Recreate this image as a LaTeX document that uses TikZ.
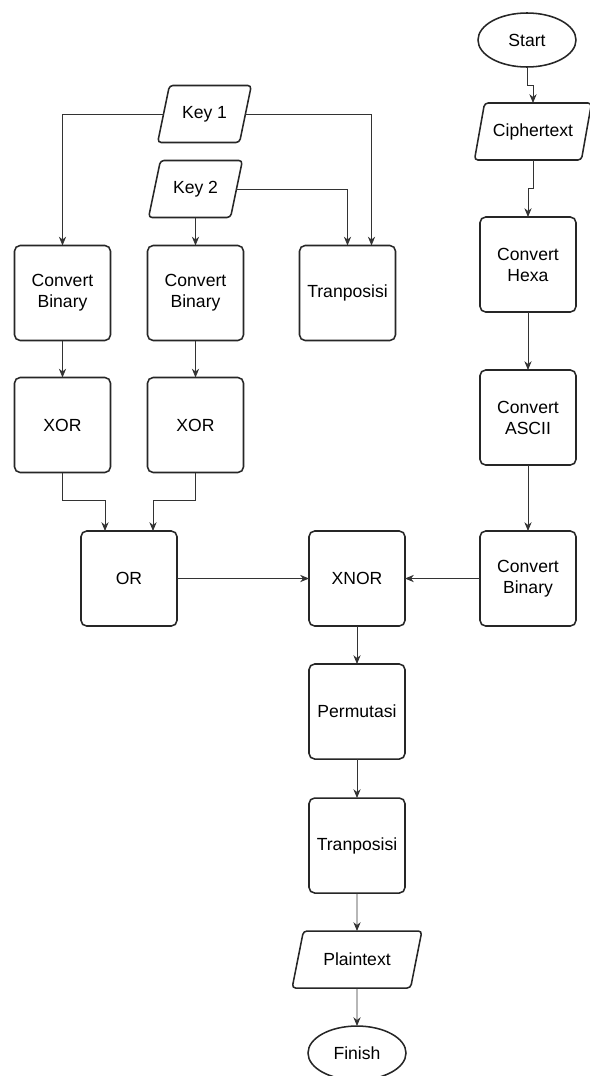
\documentclass[tikz,border=0pt]{standalone}
\usepackage{fontspec}
\setmainfont{Liberation Sans}
\usepackage{tikz}
\usetikzlibrary{arrows.meta,calc,positioning,shapes.geometric}

\begin{document}
\begin{tikzpicture}[
    font=\fontsize{12.5}{15}\selectfont,
    box/.style={draw=black!85,line width=1.1pt,rounded corners=4pt,fill=white,outer sep=0pt,
                minimum width=2.4cm,minimum height=2.375cm,align=center,inner sep=2pt},
    io/.style={draw=black!85,line width=1.1pt,rounded corners=2.5pt,trapezium,outer sep=0pt,
               trapezium left angle=70,trapezium right angle=110,
               trapezium stretches=true,minimum width=2.35cm,minimum height=1.425cm},
    term/.style={draw=black!85,line width=1.1pt,ellipse,inner sep=0pt,outer sep=0pt,
                 minimum width=2.45cm,minimum height=1.35cm},
    line/.style={-{Stealth[length=2.2mm,width=1.8mm,inset=0.7mm]},line width=0.6pt,black!80}
  ]
    \useasboundingbox (0,0) rectangle (14.75,-26.9);
    % decryption column on the right
    \node[term] (start) at (13.175,-1.0) {Start};
    \node[io,minimum width=2.95cm,below=0.9cm of start,xshift=0.15cm] (cipher) {Ciphertext};
    \node[box,below=1.425cm of cipher,xshift=-0.125cm] (hexa) {Convert\\Hexa};
    \node[box,below=1.45cm of hexa] (ascii) {Convert\\ASCII};
    \node[box,below=1.65cm of ascii] (binR) {Convert\\Binary};
    \node[box,left=1.875cm of binR] (xnor) {XNOR};
    \node[box,left=3.3cm of xnor] (orN) {OR};
    \node[box,below=0.95cm of xnor] (perm) {Permutasi};
    \node[box,below=0.975cm of perm] (tranB) {Tranposisi};
    \node[io,minimum width=3.25cm,below=0.95cm of tranB] (plain) {Plaintext};
    \node[term,below=0.95cm of plain] (finish) {Finish};
    % key processing on the left
    \node[box] (binL) at (1.5625,-7.325) {Convert\\Binary};
    \node[box,right=0.925cm of binL] (binM) {Convert\\Binary};
    \node[box,right=1.4cm of binM] (tranT) {Tranposisi};
    \node[box,below=0.925cm of binL] (xorL) {XOR};
    \node[box,below=0.925cm of binM] (xorM) {XOR};
    \node[io,above=0.7cm of binM] (key2) {Key 2};
    \node[io,above=0.45cm of key2,xshift=0.225cm] (key1) {Key 1};

    \draw[line] (start.south) -- ++(0,-0.45) -| (cipher.north);
    \draw[line] (cipher.south) -- ++(0,-0.7) -| (hexa.north);
    \draw[line] (hexa) -- (ascii);
    \draw[line] (ascii) -- (binR);
    \draw[line] (binR) -- (xnor);
    \draw[line] (orN) -- (xnor);
    \draw[line] (xnor) -- (perm);
    \draw[line] (perm) -- (tranB);
    \draw[line] (tranB) -- (plain);
    \draw[line] (plain) -- (finish);

    \draw[line] (key1.west) -| (binL.north);
    \draw[line] (key1.east) -| ([xshift=0.6cm]tranT.north);
    \draw[line] (key2.east) -| (tranT.north);
    \draw[line] (key2) -- (binM);
    \draw[line] (binL) -- (xorL);
    \draw[line] (binM) -- (xorM);
    \draw[line] (xorL.south) -- ++(0,-0.7) -| ([xshift=-0.6cm]orN.north);
    \draw[line] (xorM.south) -- ++(0,-0.7) -| ([xshift=0.6cm]orN.north);
\end{tikzpicture}
\end{document}
